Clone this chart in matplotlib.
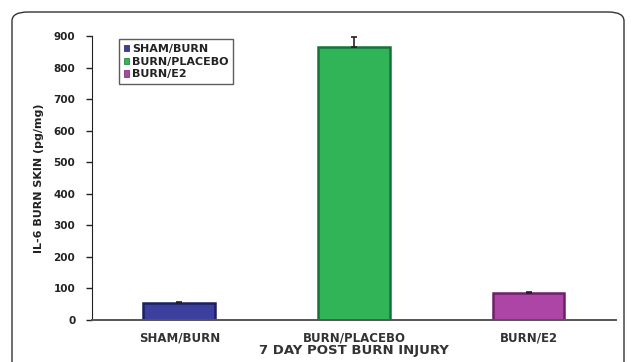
import matplotlib.pyplot as plt
from matplotlib.patches import FancyBboxPatch

groups = ['SHAM/BURN', 'BURN/PLACEBO', 'BURN/E2']
il6 = [54, 865, 87]
il6_err = [3, 33, 2]
colors = ['#3d3f9e', '#30b457', '#ad45a6']
edges = ['#1e1f63', '#15723a', '#6e1f6b']

plt.rcParams['font.family'] = ['DejaVu Sans']
plt.rcParams['font.weight'] = 'bold'

fig = plt.figure(figsize=(6.33, 3.62), dpi=100)
ax = fig.add_axes([0.1453, 0.116, 0.8277, 0.7846])

# outer rounded frame
frame = FancyBboxPatch((12 / 633, -0.2), 612 / 633, 1.2 - 12 / 362,
                       boxstyle='round,pad=0,rounding_size=0.025',
                       transform=fig.transFigure, fill=False,
                       edgecolor='#333333', linewidth=1.0, zorder=0)
fig.patches.append(frame)

x = range(len(groups))
ax.bar(x, il6, width=0.41, color=colors, edgecolor=edges, linewidth=1.8, zorder=2)
ax.errorbar(x, il6, yerr=[[0] * 3, il6_err], fmt='none', ecolor='#222222',
            elinewidth=1.2, capsize=2.5, capthick=1.2, zorder=3)

ax.set_xlim(-0.5, 2.5)
ax.set_ylim(0, 900)
ax.set_yticks(range(0, 901, 100))
ax.set_xticks(list(x))
ax.set_xticklabels(groups, fontsize=8.5, fontweight='bold', color='#333333')
ax.tick_params(axis='x', length=0, pad=8)
ax.tick_params(axis='y', labelsize=7.5, length=4, width=1, pad=8, colors='#222222')
for lab in ax.get_yticklabels():
    lab.set_fontweight('bold')

ax.spines['top'].set_visible(False)
ax.spines['right'].set_visible(False)
ax.spines['left'].set_color('#222222')
ax.spines['bottom'].set_color('#555555')
ax.spines['bottom'].set_linewidth(1.4)

ax.set_ylabel('IL-6 BURN SKIN (pg/mg)', fontsize=8, fontweight='bold',
              color='#222222', labelpad=7)
ax.set_xlabel('7 DAY POST BURN INJURY', fontsize=9.5, fontweight='bold',
              color='#333333', labelpad=0)

handles = [plt.Rectangle((0, 0), 1, 1, facecolor=c, edgecolor=e, linewidth=0.5)
           for c, e in zip(colors, edges)]
leg = ax.legend(handles, groups, loc='upper left', bbox_to_anchor=(0.052, 0.988),
                fontsize=8, frameon=True, fancybox=False, handlelength=0.5,
                handleheight=0.5, handletextpad=0.25, labelspacing=0.25,
                borderpad=0.4, borderaxespad=0)
leg.get_frame().set_edgecolor('#333333')
leg.get_frame().set_linewidth(1.0)
for t in leg.get_texts():
    t.set_fontweight('bold')
    t.set_color('#222222')

fig.savefig('out.png', dpi=100)
